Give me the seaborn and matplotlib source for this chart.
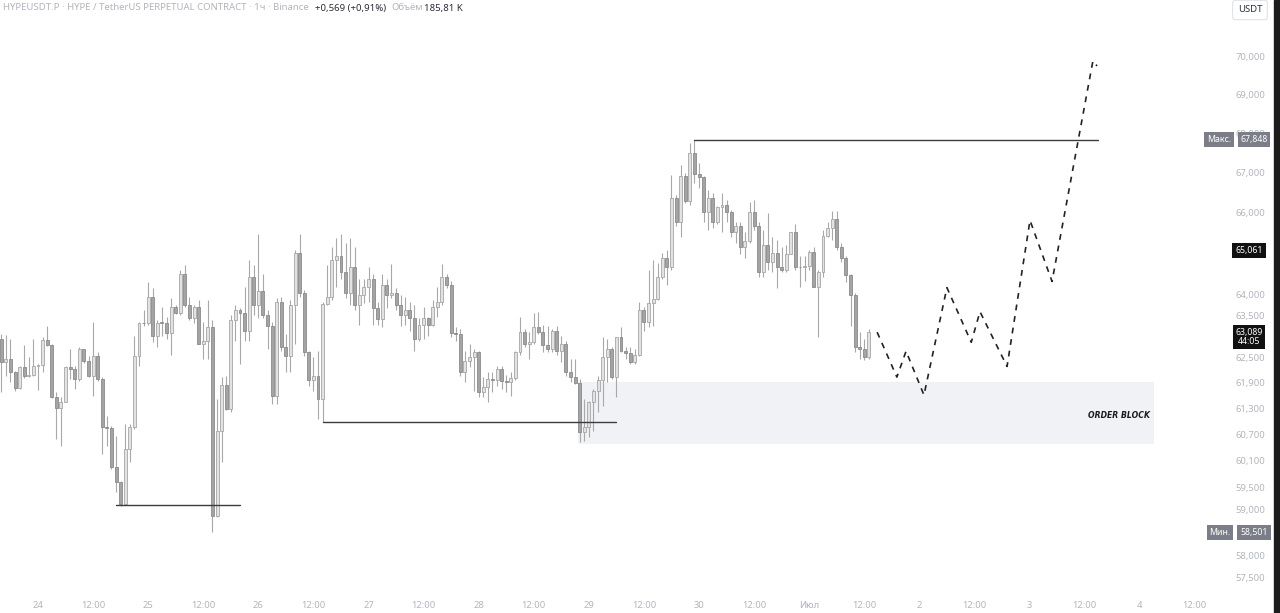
import matplotlib
matplotlib.use("Agg")
import matplotlib.pyplot as plt
import numpy as np
import pandas as pd
import seaborn as sns
from matplotlib.ticker import NullLocator
from matplotlib.transforms import blended_transform_factory

# hourly candles, HYPEUSDT.P (1h), first candle 23 Jun 16:00
CANDLE_START = "2025-06-23 16:00"
ORIGIN = "2025-06-24 00:00"
FIRST_OPEN = 62.92

closes = [
    62.38, 62.45, 62.16, 61.77, 62.26, 62.05, 62.07, 62.28,
    62.31, 62.90, 62.78, 61.56, 61.30, 61.44, 62.26, 62.21, 61.98, 62.68, 62.40, 62.05,
    62.52, 61.98, 60.87, 60.86, 59.96, 59.62, 59.13, 60.37, 60.87, 62.52, 63.32, 63.30,
    63.94, 62.99, 63.32, 63.31, 63.06, 63.70, 63.56, 64.48, 63.73, 63.44, 63.70, 62.82,
    62.87, 63.21, 58.87, 60.78, 61.84, 61.28, 63.39, 63.63, 63.56, 63.11, 64.43, 63.75,
    64.09, 63.51, 63.23, 61.58, 63.82, 62.75, 62.52, 63.73, 65.01, 64.04, 62.61, 61.96,
    62.05, 61.51, 63.77, 63.94, 64.84, 64.94, 64.53, 64.04, 64.67, 63.75, 63.97, 64.18,
    64.36, 63.68, 63.41, 64.23, 63.99, 64.02, 63.75, 63.51, 63.61, 63.44, 62.92, 63.27,
    63.44, 63.27, 63.70, 63.82, 64.41, 64.23, 63.06, 63.04, 62.16, 62.40, 62.50, 62.61,
    61.68, 61.80, 61.98, 61.96, 62.21, 61.93, 61.92, 62.00, 62.61, 63.09, 62.80, 62.85,
    63.21, 63.09, 62.78, 62.68, 63.11, 62.64, 62.80, 62.14, 62.03, 61.89, 60.75, 60.87,
    61.44, 61.70, 61.96, 62.50, 62.70, 62.03, 62.97, 62.64, 62.59, 62.38, 62.56, 63.63,
    63.34, 63.80, 63.89, 64.41, 64.89, 64.67, 66.37, 65.76, 66.92, 66.30, 67.51, 66.97,
    66.90, 66.02, 66.37, 65.76, 66.15, 66.20, 66.02, 65.51, 65.66, 65.16, 65.31, 66.02,
    65.66, 64.53, 65.21, 64.79, 65.01, 64.67, 64.58, 64.99, 65.51, 64.67, 64.66, 64.69,
    65.04, 64.18, 64.53, 65.43, 65.61, 65.85, 65.16, 64.87, 64.46, 63.97, 62.73, 62.68,
    62.50, 63.089,
]

highs = [
    63.04, 63.02, 62.92, 62.17, 62.28, 62.78, 62.50, 62.92,
    62.33, 62.97, 63.23, 62.80, 61.68, 61.56, 62.28, 62.68, 62.28, 62.75, 62.69, 62.52,
    63.34, 62.61, 62.03, 61.12, 60.89, 60.66, 59.65, 60.94, 60.94, 62.99, 63.34, 63.63,
    64.29, 64.14, 63.39, 63.70, 63.46, 63.92, 63.73, 64.60, 64.72, 63.94, 63.75, 63.87,
    63.34, 63.87, 63.39, 61.51, 62.03, 62.05, 63.51, 63.75, 63.68, 64.18, 64.84, 64.72,
    65.46, 64.48, 63.63, 63.34, 63.92, 63.94, 63.04, 63.87, 65.09, 65.46, 64.11, 62.64,
    62.50, 62.64, 63.82, 64.72, 65.16, 65.38, 65.46, 65.26, 65.38, 65.14, 64.36, 64.36,
    64.67, 64.48, 63.82, 64.48, 64.36, 64.74, 64.16, 63.99, 63.94, 63.82, 63.75, 63.44,
    63.70, 63.46, 63.87, 64.18, 64.74, 64.48, 64.31, 63.21, 63.16, 62.64, 62.80, 62.68,
    62.64, 62.03, 62.14, 62.14, 62.28, 62.28, 62.09, 62.16, 62.64, 63.46, 63.16, 63.09,
    63.56, 63.58, 63.27, 63.23, 63.16, 63.23, 62.99, 62.87, 62.45, 62.45, 61.98, 61.51,
    61.47, 61.75, 62.05, 62.97, 62.92, 62.75, 62.98, 63.21, 62.75, 62.73, 62.68, 63.82,
    63.70, 64.60, 64.84, 64.77, 65.01, 65.09, 66.95, 66.45, 67.20, 67.00, 67.76, 67.848,
    67.25, 66.91, 66.57, 66.50, 66.16, 66.50, 66.32, 66.07, 65.76, 65.76, 65.51, 66.27,
    66.32, 65.76, 65.58, 66.00, 65.41, 65.33, 65.16, 65.21, 65.53, 65.71, 64.92, 64.92,
    65.09, 65.14, 64.60, 65.58, 65.78, 66.05, 66.05, 65.26, 64.92, 64.48, 64.04, 63.09,
    62.92, 63.16,
]

lows = [
    61.68, 62.05, 61.91, 61.70, 61.75, 62.00, 62.03, 62.05,
    61.72, 62.14, 62.77, 61.55, 60.59, 60.44, 61.44, 61.98, 61.75, 61.93, 62.37, 62.03,
    61.58, 61.93, 60.26, 60.44, 59.91, 59.40, 59.09, 59.20, 60.07, 60.82, 62.28, 63.23,
    63.27, 62.85, 62.75, 62.99, 62.92, 62.56, 63.53, 63.51, 63.70, 63.39, 63.32, 62.80,
    62.45, 62.45, 58.501, 58.84, 60.07, 61.27, 61.21, 62.87, 62.33, 62.87, 62.87, 63.51,
    63.44, 63.43, 62.68, 61.40, 61.40, 62.64, 62.14, 62.16, 62.80, 63.94, 62.52, 61.82,
    61.70, 61.05, 60.98, 63.75, 63.87, 64.18, 64.36, 63.92, 63.75, 63.63, 63.27, 63.80,
    63.82, 63.27, 63.27, 63.21, 63.68, 63.92, 63.63, 63.23, 63.27, 63.11, 62.64, 62.87,
    62.92, 62.99, 63.23, 63.46, 63.75, 64.16, 62.97, 62.87, 62.05, 61.91, 62.26, 61.70,
    61.56, 61.56, 61.44, 61.68, 61.82, 61.75, 61.68, 61.58, 61.96, 62.56, 62.75, 62.45,
    62.80, 63.04, 62.61, 62.61, 62.61, 62.56, 62.38, 62.05, 61.91, 61.86, 60.52, 60.55,
    60.64, 60.77, 61.21, 61.35, 61.91, 61.98, 61.56, 62.61, 62.45, 62.33, 62.33, 62.52,
    63.11, 63.21, 63.23, 63.87, 64.36, 64.23, 64.60, 65.66, 65.41, 66.25, 66.20, 66.75,
    66.62, 65.78, 65.58, 65.63, 65.71, 65.53, 65.76, 65.41, 65.26, 64.97, 64.89, 65.26,
    65.58, 64.43, 64.41, 64.60, 64.53, 64.16, 64.53, 64.53, 64.97, 64.60, 64.18, 64.31,
    64.60, 64.17, 62.97, 64.43, 65.41, 65.33, 65.09, 64.79, 64.29, 63.23, 62.61, 62.45,
    62.44, 62.45,
]

# drawn levels, hours counted from 24 Jun 00:00
level_start = [17, 62, 143]
level_end = [44, 126, 231]
level_price = [59.11, 60.98, 67.848]

order_block_hours = [117.6, 243.1]
order_block_low = 60.48
order_block_high = 61.91

proj_hours = [182.8, 187.1, 189.1, 193.0, 198.0, 203.3, 205.2, 211.1, 216.1, 220.9, 229.8, 230.7]
proj_prices = [63.09, 62.03, 62.64, 61.61, 64.16, 62.85, 63.58, 62.28, 65.81, 64.31, 69.89, 69.76]

price_ticks = [70.0, 69.0, 68.0, 67.0, 66.0, 64.0, 63.5, 62.5, 61.9, 61.3,
               60.7, 60.1, 59.5, 59.0, 58.0, 57.5]
time_labels = ["24", "12:00", "25", "12:00", "26", "12:00", "27", "12:00", "28", "12:00",
               "29", "12:00", "30", "12:00", "Июл", "12:00", "2", "12:00", "3", "12:00",
               "4", "12:00"]

header_parts = ["HYPEUSDT.P · HYPE / TetherUS PERPETUAL CONTRACT · 1ч · Binance",
                "+0,569 (+0,91%)", "Объём", "185,81 K"]

MAX_PRICE = 67.848
MIN_PRICE = 58.501
MARK_PRICE = 65.061
TIMER = "44:05"

W, H = 1280, 613
GREY_TXT = "#b2b5be"
DARK_TXT = "#2a2e39"
UP_FILL, UP_EDGE = "#e2e2e2", "#a6a6a6"
DN_FILL, DN_EDGE = "#a4a4a4", "#8a8a8a"
WICK = "#a8a8a8"


def fmt(v):
    return f"{v:.3f}".replace(".", ",")


sns.set_theme(style="white")
plt.rcParams["font.family"] = ["Noto Sans", "DejaVu Sans"]

times = pd.date_range(CANDLE_START, periods=len(closes), freq="h")
hours = ((times - pd.Timestamp(ORIGIN)) / pd.Timedelta(hours=1)).to_numpy()
c = np.asarray(closes)
o = np.concatenate([[FIRST_OPEN], c[:-1]])
hi = np.maximum(np.asarray(highs), np.maximum(o, c))
lo = np.minimum(np.asarray(lows), np.minimum(o, c))
up = c >= o

fig = plt.figure(figsize=(W / 100, H / 100), dpi=100)
fig.patch.set_facecolor("white")
ax = fig.add_axes([0, 23 / H, 1215 / W, 570 / H])
ax.set_facecolor("white")

# order block zone
ax.fill_between(order_block_hours, order_block_low, order_block_high,
                color="#f1f2f5", linewidth=0, zorder=0)
ax.text(order_block_hours[1] - 0.9, (order_block_low + order_block_high) / 2 - 0.05,
        "ORDER BLOCK", ha="right", va="center", fontsize=5.6, fontweight="black",
        style="italic", color="#1a1a1a", family=["DejaVu Sans"], zorder=5)

# candles
ax.vlines(hours, lo, hi, color=WICK, linewidth=0.8, zorder=2)
body = np.maximum(np.abs(c - o), 0.012)
ax.bar(hours[up], body[up], bottom=np.minimum(o, c)[up], width=0.64,
       color=UP_FILL, edgecolor=UP_EDGE, linewidth=0.6, zorder=3)
ax.bar(hours[~up], body[~up], bottom=np.minimum(o, c)[~up], width=0.64,
       color=DN_FILL, edgecolor=DN_EDGE, linewidth=0.6, zorder=3)

# swing levels
for x0, x1, p in zip(level_start, level_end, level_price):
    sns.lineplot(x=[x0, x1], y=[p, p], ax=ax, color="#3c3c3c", linewidth=1.0, zorder=4)

# projected path
sns.lineplot(x=proj_hours, y=proj_prices, ax=ax, sort=False, color="#222222",
             linewidth=1.2, linestyle=(0, (3.5, 3.5)), zorder=4)

ax.set_yscale("log")
ax.set_ylim(57.24, 70.98)
ax.set_xlim(-8.28, 256.4)
for s in ax.spines.values():
    s.set_visible(False)

ax.yaxis.tick_right()
ax.yaxis.set_minor_locator(NullLocator())
ax.set_yticks(price_ticks)
ax.set_yticklabels([fmt(v) for v in price_ticks])
ax.tick_params(axis="y", length=0, pad=15, labelsize=6.8, labelcolor=GREY_TXT)

ax.set_xticks(np.arange(len(time_labels)) * 12)
ax.set_xticklabels(time_labels)
ax.tick_params(axis="x", length=0, pad=8, labelsize=6.8, labelcolor=GREY_TXT)
ax.set_xlabel("")
ax.set_ylabel("")
ax.grid(False)

# price scale badges
bt = blended_transform_factory(ax.transAxes, ax.transData)
xa = lambda px: px / 1215


def badge(px, price, text, bg, dy=0):
    ax.annotate(text, xy=(xa(px), price), xycoords=bt, xytext=(0, dy),
                textcoords="offset points", ha="center", va="center",
                fontsize=6.3, color="white", zorder=10, annotation_clip=False,
                bbox=dict(boxstyle="square,pad=0.32", fc=bg, ec="none"))


badge(1219, MAX_PRICE, "Макс.", "#7b7e88")
badge(1254, MAX_PRICE, fmt(MAX_PRICE), "#7b7e88")
badge(1220, MIN_PRICE, "Мин.", "#7b7e88")
badge(1254, MIN_PRICE, fmt(MIN_PRICE), "#7b7e88")
badge(1249, MARK_PRICE, fmt(MARK_PRICE), "#111111")
ax.annotate(fmt(closes[-1]) + "\n" + TIMER, xy=(xa(1249), closes[-1]), xycoords=bt,
            xytext=(0, -3.5), textcoords="offset points", ha="center", va="center",
            fontsize=6.3, color="white", linespacing=1.05, zorder=10,
            annotation_clip=False,
            bbox=dict(boxstyle="square,pad=0.32", fc="#111111", ec="none"))

# header, laid out piece by piece
renderer = fig.canvas.get_renderer()
ty = 1 - 8 / H
x_px = 3
gaps = [6, 6, 1, 0]
colors = [GREY_TXT, DARK_TXT, GREY_TXT, DARK_TXT]
for part, col, gap in zip(header_parts, colors, gaps):
    t = fig.text(x_px / W, ty, part, fontsize=6.9, color=col, va="center")
    x_px += t.get_window_extent(renderer).width + gap

fig.text(1250 / W, 1 - 10 / H, "USDT", fontsize=6.8, color=DARK_TXT, ha="center", va="center",
         bbox=dict(boxstyle="round,pad=0.55,rounding_size=0.3", fc="white", ec="#e0e3eb", lw=0.8))

fig.patches.append(plt.Rectangle((1274 / W, 0), 6 / W, 1, transform=fig.transFigure,
                                 color="#1c1c1c", zorder=0))

fig.savefig("out.png", dpi=100)
